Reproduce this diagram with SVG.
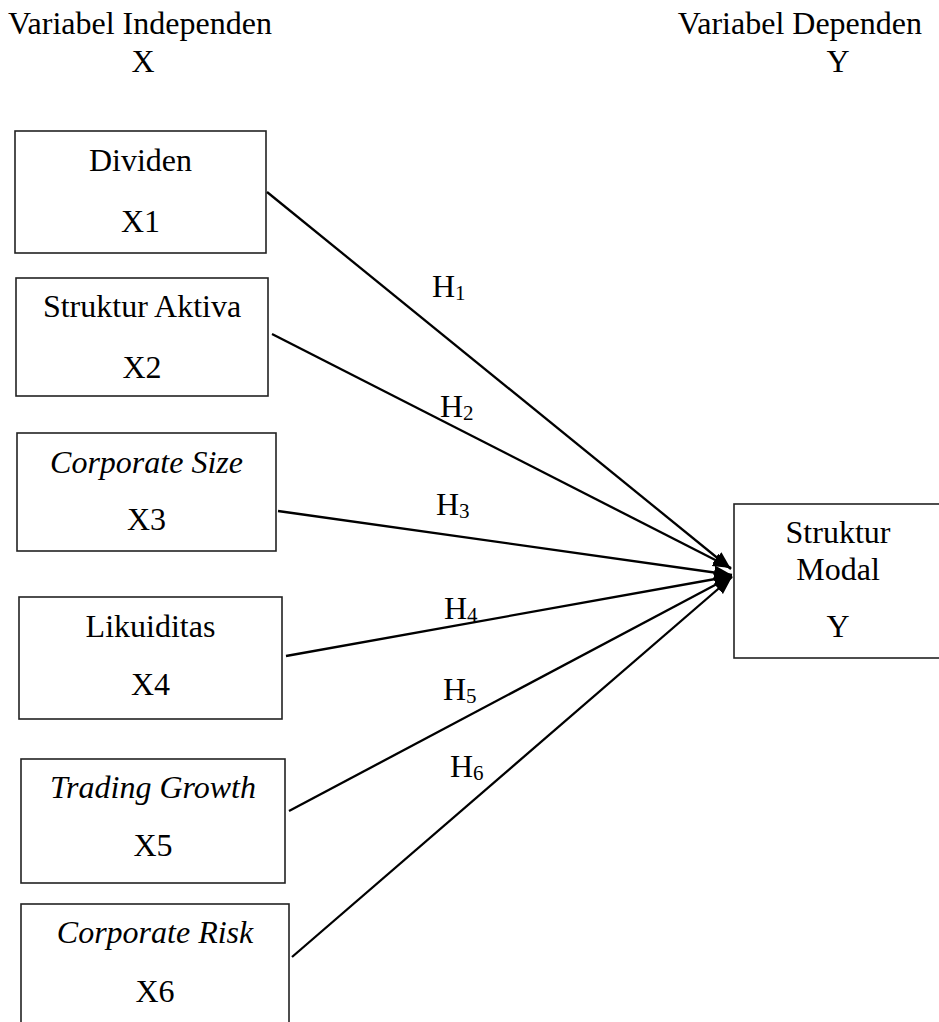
<svg xmlns="http://www.w3.org/2000/svg" width="939" height="1022" viewBox="0 0 939 1022">
<style>
text{font-family:"Liberation Serif","Times New Roman",serif;font-size:32px;fill:#000}
.c{text-anchor:middle}
.i{font-style:italic}
.box{fill:#fff;stroke:#222;stroke-width:1.6}
.sub{font-size:21px}
.conn line{stroke:#000;stroke-width:2.3}
</style>
<defs>
<marker id="ah" markerUnits="userSpaceOnUse" markerWidth="20" markerHeight="16" refX="18" refY="7" orient="auto">
<path d="M0,0 L18,7 L0,14 Z" fill="#000"/>
</marker>
</defs>
<g id="header">
<text x="8" y="34">Variabel Independen</text>
<text class="c" x="143" y="72">X</text>
<text x="922" y="34" text-anchor="end">Variabel Dependen</text>
<text class="c" x="838" y="72">Y</text>
</g>
<g id="x1"><rect class="box" x="15" y="131" width="251" height="122"/><text class="c" x="140.5" y="171">Dividen</text><text class="c" x="140.5" y="232">X1</text></g>
<g id="x2"><rect class="box" x="16" y="278" width="252" height="118"/><text class="c" x="142" y="317">Struktur Aktiva</text><text class="c" x="142" y="378">X2</text></g>
<g id="x3"><rect class="box" x="17" y="433" width="259" height="118"/><text class="c i" x="146.5" y="473">Corporate Size</text><text class="c" x="146.5" y="530">X3</text></g>
<g id="x4"><rect class="box" x="19" y="597" width="263" height="122"/><text class="c" x="150.5" y="637">Likuiditas</text><text class="c" x="150.5" y="695">X4</text></g>
<g id="x5"><rect class="box" x="21" y="759" width="264" height="124"/><text class="c i" x="153" y="798">Trading Growth</text><text class="c" x="153" y="856">X5</text></g>
<g id="x6"><rect class="box" x="21" y="904" width="268" height="130"/><text class="c i" x="155" y="943">Corporate Risk</text><text class="c" x="155" y="1002">X6</text></g>
<g id="y"><rect class="box" x="734" y="504" width="208" height="154"/><text class="c" x="838" y="543">Struktur</text><text class="c" x="838" y="580">Modal</text><text class="c" x="838" y="637">Y</text></g>
<g id="connectors" class="conn">
<line x1="267" y1="192" x2="731" y2="569" marker-end="url(#ah)"/>
<line x1="272" y1="334" x2="731" y2="568" marker-end="url(#ah)"/>
<line x1="278" y1="511" x2="732" y2="575" marker-end="url(#ah)"/>
<line x1="286" y1="656" x2="732" y2="576" marker-end="url(#ah)"/>
<line x1="289" y1="811" x2="732" y2="576" marker-end="url(#ah)"/>
<line x1="292" y1="957" x2="732" y2="577" marker-end="url(#ah)"/>
</g>
<g id="labels">
<text x="432" y="297">H<tspan class="sub" dy="3">1</tspan></text>
<text x="440" y="417">H<tspan class="sub" dy="3">2</tspan></text>
<text x="436" y="515">H<tspan class="sub" dy="3">3</tspan></text>
<text x="444" y="619">H<tspan class="sub" dy="3">4</tspan></text>
<text x="443" y="700">H<tspan class="sub" dy="3">5</tspan></text>
<text x="450" y="777">H<tspan class="sub" dy="3">6</tspan></text>
</g>
</svg>
